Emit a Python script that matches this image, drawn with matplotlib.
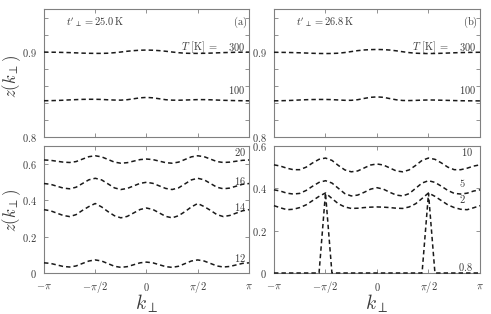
import numpy as np
import matplotlib
matplotlib.use('Agg')
import matplotlib.pyplot as plt

plt.rcParams['mathtext.fontset'] = 'cm'
plt.rcParams['font.family'] = ['DejaVu Serif']

"""
------------ data : z(k_perp) on a pi/16 grid ------------
"""

k = np.linspace(-np.pi, np.pi, 33)

# panel (a)  t'_perp = 25.0 K
z_a_300 = [.8995, .8994, .8993, .8991, .8989, .8986, .8983, .8981, .8980, .8980, .8982,
           .8988, .8996, .9005, .9012, .9017, .9019, .9017, .9012, .9005, .8996, .8988,
           .8982, .8980, .8980, .8981, .8983, .8986, .8989, .8991, .8993, .8994, .8995]
z_a_100 = [.8425, .8426, .8428, .8431, .8435, .8438, .8441, .8442, .8442, .8440, .8436,
           .8433, .8432, .8437, .8448, .8459, .8464, .8459, .8448, .8437, .8432, .8431,
           .8433, .8436, .8438, .8438, .8436, .8433, .8430, .8428, .8426, .8425, .8424]
z_a_20 = [.623, .621, .616, .611, .609, .614, .6275, .641, .646, .640, .6255, .611, .605,
          .608, .6165, .625, .628, .625, .6165, .608, .605, .611, .6255, .640, .646, .641,
          .6275, .614, .609, .611, .616, .621, .623]
z_a_16 = [.493, .489, .4785, .468, .464, .4725, .493, .5135, .522, .513, .491, .469, .460,
          .466, .480, .494, .500, .494, .480, .466, .460, .469, .491, .513, .522, .5135,
          .493, .4725, .464, .468, .4785, .489, .493]
z_a_14 = [.349, .343, .330, .317, .311, .3215, .345, .366, .383, .364, .338, .3155, .304,
          .312, .331, .350, .358, .350, .331, .312, .304, .3155, .338, .364, .383, .366,
          .345, .3215, .311, .317, .330, .343, .349]
z_a_12 = [.056, .053, .0445, .036, .033, .0387, .0525, .066, .072, .066, .0515, .037, .031,
          .035, .0455, .056, .060, .056, .0455, .035, .031, .037, .0515, .066, .072, .066,
          .0525, .0387, .033, .036, .0445, .053, .056]

# panel (b)  t'_perp = 26.8 K
z_b_300 = [.8993, .8992, .8991, .8989, .8987, .8984, .8981, .8979, .8978, .8979, .8982,
           .8990, .9001, .9012, .9020, .9024, .9026, .9024, .9019, .9010, .8999, .8989,
           .8982, .8979, .8978, .8979, .8981, .8984, .8987, .8989, .8991, .8992, .8993]
z_b_100 = [.8424, .8425, .8427, .8430, .8434, .8437, .8439, .8440, .8440, .8438, .8434,
           .8430, .8430, .8437, .8452, .8465, .8470, .8465, .8450, .8436, .8428, .8427,
           .8429, .8432, .8434, .8433, .8431, .8429, .8427, .8425, .8424, .8424, .8423]
z_b_10 = [.511, .505, .495, .488, .488, .500, .520, .537, .543, .532, .508, .487, .478,
          .482, .496, .510, .515, .510, .496, .482, .478, .487, .508, .532, .543, .537,
          .520, .500, .488, .488, .495, .505, .511]
z_b_5 = [.393, .387, .377, .373, .376, .390, .410, .428, .436, .425, .400, .375, .364,
         .368, .381, .396, .403, .396, .381, .368, .364, .375, .400, .425, .436, .428,
         .410, .390, .376, .373, .377, .387, .393]
z_b_2 = [.318, .308, .299, .301, .309, .322, .342, .362, .378, .352, .327, .312, .305,
         .306, .309, .311, .312, .311, .309, .306, .305, .312, .327, .352, .378, .362,
         .342, .322, .309, .301, .299, .308, .318]
z_b_08 = [0, 0, 0, 0, 0, 0, 0, 0, .378, 0, 0, 0, 0, 0, 0, 0, 0, 0, 0, 0, 0, 0, 0, 0,
          .376, 0, 0, 0, 0, 0, 0, 0, 0]

k_ticks = [-np.pi, -np.pi / 2, 0, np.pi / 2, np.pi]
k_labels = [r'$-\pi$', r'$-\pi/2$', r'$0$', r'$\pi/2$', r'$\pi$']

"""
--------------- plotting ---------------
"""

TXT = '#3a3a3a'
SPINE = '#808080'
LINE = '#1a1a1a'

fig = plt.figure(figsize=(4.91, 3.14), dpi=100)

ax_a_top = fig.add_axes([0.0896, 0.5637, 0.4175, 0.4076])
ax_a_bot = fig.add_axes([0.0896, 0.1306, 0.4175, 0.4045])
ax_b_top = fig.add_axes([0.5580, 0.5637, 0.4196, 0.4076])
ax_b_bot = fig.add_axes([0.5580, 0.1306, 0.4196, 0.4045])


def dashed(ax, y):
    ax.plot(k, y, color=LINE, lw=1.1, dashes=(2.9, 2.0), clip_on=False, zorder=5)


def style(ax, yticks, ylabels, xlab):
    ax.set_xlim(-np.pi, np.pi)
    ax.set_xticks(k_ticks)
    if xlab:
        ax.set_xticklabels(k_labels, va='center')
    else:
        ax.set_xticklabels([])
    ax.set_yticks(yticks)
    ax.set_yticklabels(ylabels)
    ax.tick_params(direction='in', top=True, right=True, length=3, width=0.6,
                   color=SPINE, labelcolor=TXT, labelsize=7.5, pad=5)
    ax.tick_params(axis='x', pad=10)
    for s in ax.spines.values():
        s.set_color(SPINE)
        s.set_linewidth(0.8)


def lab(ax, x, y, s, ha='right'):
    ax.text(x, y, s, transform=ax.transAxes, ha=ha, va='center', fontsize=7.5, color=TXT)


top_ticks = [0.80, 0.82, 0.84, 0.86, 0.88, 0.90, 0.92, 0.94]
top_labels = [r'$0.8$', '', '', '', '', r'$0.9$', '', '']

#-----          (a) top         -----
dashed(ax_a_top, z_a_300)
dashed(ax_a_top, z_a_100)
ax_a_top.set_ylim(0.8, 0.95)
style(ax_a_top, top_ticks, top_labels, False)
lab(ax_a_top, 0.107, 0.898, r"$t'_\perp = 25.0\,\mathrm{K}$", ha='left')
lab(ax_a_top, 0.99, 0.898, r'$\mathrm{(a)}$')
lab(ax_a_top, 0.85, 0.703, r'$T\ [\mathrm{K}]\ =$')
lab(ax_a_top, 0.98, 0.703, r'$300$')
lab(ax_a_top, 0.98, 0.367, r'$100$')

#-----          (a) bottom         -----
for z in (z_a_20, z_a_16, z_a_14, z_a_12):
    dashed(ax_a_bot, z)
ax_a_bot.set_ylim(0, 0.7)
style(ax_a_bot, [0, 0.2, 0.4, 0.6], [r'$0$', r'$0.2$', r'$0.4$', r'$0.6$'], True)
lab(ax_a_bot, 0.985, 0.953, r'$20$')
lab(ax_a_bot, 0.985, 0.724, r'$16$')
lab(ax_a_bot, 0.985, 0.52, r'$14$')
lab(ax_a_bot, 0.985, 0.118, r'$12$')

#-----          (b) top         -----
dashed(ax_b_top, z_b_300)
dashed(ax_b_top, z_b_100)
ax_b_top.set_ylim(0.8, 0.95)
style(ax_b_top, top_ticks, top_labels, False)
lab(ax_b_top, 0.107, 0.898, r"$t'_\perp = 26.8\,\mathrm{K}$", ha='left')
lab(ax_b_top, 0.99, 0.898, r'$\mathrm{(b)}$')
lab(ax_b_top, 0.85, 0.703, r'$T\ [\mathrm{K}]\ =$')
lab(ax_b_top, 0.98, 0.703, r'$300$')
lab(ax_b_top, 0.98, 0.367, r'$100$')

#-----          (b) bottom         -----
for z in (z_b_10, z_b_5, z_b_2, z_b_08):
    dashed(ax_b_bot, z)
ax_b_bot.set_ylim(0, 0.6)
style(ax_b_bot, [0, 0.2, 0.4, 0.6], [r'$0$', r'$0.2$', r'$0.4$', r'$0.6$'], True)
lab(ax_b_bot, 0.966, 0.953, r'$10$')
lab(ax_b_bot, 0.93, 0.709, r'$5$')
lab(ax_b_bot, 0.93, 0.583, r'$2$')
lab(ax_b_bot, 0.966, 0.047, r'$0.8$')

# axis titles as figure texts so they sit where the reference has them
for yc in (77, 211):
    fig.text(12 / 491, 1 - yc / 314, r'$z(k_\perp)$', rotation=90, ha='center', va='center',
             fontsize=12, color=TXT)
for xc in (147, 377):
    fig.text(xc / 491, 1 - 304 / 314, r'$k_\perp$', ha='center', va='center',
             fontsize=14, color=TXT)

fig.savefig('out.png', dpi=100)
